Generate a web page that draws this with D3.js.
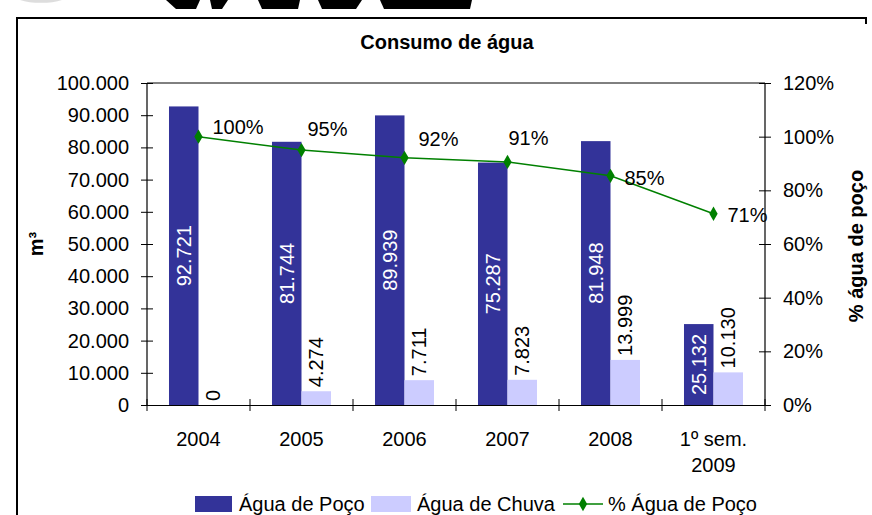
<!DOCTYPE html>
<html>
<head>
<meta charset="utf-8">
<script src="https://cdn.jsdelivr.net/npm/d3@7"></script>
<style>
  body { margin: 0; background: #fff; }
  svg text { font-family: Arial, "Liberation Sans", sans-serif; }
</style>
</head>
<body>
<div id="chart"></div>
<script>
var categories = ["2004", "2005", "2006", "2007", "2008", "1º sem.|2009"];
var aguaPoco = [92721, 81744, 89939, 75287, 81948, 25132];
var aguaChuva = [0, 4274, 7711, 7823, 13999, 10130];
var pctPoco = [1.00, 0.95, 0.921, 0.906, 0.854, 0.713];
var pctLabels = ["100%", "95%", "92%", "91%", "85%", "71%"];
var leftTicks = [0, 10000, 20000, 30000, 40000, 50000, 60000, 70000, 80000, 90000, 100000];
var rightTicks = [0, 0.2, 0.4, 0.6, 0.8, 1.0, 1.2];
// label nudges for the % labels (dx, dy from the point)
var pctNudge = [[14, -10], [6, -21], [14, -19], [1, -24], [14, 2], [14, 1]];

var W = 872, H = 515;
var plot = {left: 147, right: 765, top: 83, bottom: 405};
var fs = 20;

var br = d3.formatLocale({decimal: ",", thousands: ".", grouping: [3], currency: ["", ""]});
var fmtNum = br.format(",d");

var svg = d3.select("#chart").append("svg")
            .attr("width", W)
            .attr("height", H);

// cropped page: bits of a logo above the frame
svg.append("path")
   .attr("d", "M20,0 A30,10 0 0 0 62,0 Z")
   .style("fill", "#ddd");
var logoBits = [[166, 0, 200, 0, 196, 9, 176, 9], [210, 0, 228, 0, 222, 9, 212, 9],
                [258, 0, 300, 0, 298, 9, 262, 9], [318, 0, 362, 0, 356, 9, 322, 9],
                [380, 0, 472, 0, 470, 9, 384, 9]];
svg.selectAll("polygon.logo")
   .data(logoBits)
   .enter()
   .append("polygon")
   .attr("class", "logo")
   .attr("points", function(d){
       var p = [];
       for(var i = 0; i < d.length; i += 2) p.push(d[i] + "," + d[i+1]);
       return p.join(" ");
   })
   .style("fill", "#000");

// frame
svg.append("path")
   .attr("d", "M17,515 L17,18 L866,18 L866,24")
   .style("fill", "none")
   .style("stroke", "#000")
   .style("stroke-width", 2);

var x = d3.scaleBand()
          .domain(categories)
          .range([plot.left, plot.right])
          .paddingInner(0.427)
          .paddingOuter(0.2135);
var xs = d3.scaleBand()
           .domain(["poco", "chuva"])
           .range([0, x.bandwidth()]);
var y = d3.scaleLinear().domain([0, 100000]).range([plot.bottom, plot.top]);
var y2 = d3.scaleLinear().domain([0, 1.2]).range([plot.bottom, plot.top]);

// title
svg.append("text")
   .attr("x", 447)
   .attr("y", 49)
   .attr("text-anchor", "middle")
   .style("font-size", "20px")
   .style("font-weight", "bold")
   .text("Consumo de água");

// bars
var groups = svg.selectAll("g.cat")
                .data(categories)
                .enter()
                .append("g")
                .attr("class", "cat")
                .attr("transform", function(d){ return "translate(" + x(d) + ",0)"; });

groups.append("rect")
      .attr("x", xs("poco"))
      .attr("y", function(d, i){ return y(aguaPoco[i]); })
      .attr("width", xs.bandwidth())
      .attr("height", function(d, i){ return y(0) - y(aguaPoco[i]); })
      .style("fill", "#333399");

groups.append("rect")
      .attr("x", xs("chuva"))
      .attr("y", function(d, i){ return y(aguaChuva[i]); })
      .attr("width", xs.bandwidth())
      .attr("height", function(d, i){ return y(0) - y(aguaChuva[i]); })
      .style("fill", "#ccccff");

// value labels
groups.append("text")
      .attr("transform", function(d, i){
          var cx = xs("poco") + xs.bandwidth() / 2;
          var cy = (y(aguaPoco[i]) + y(0)) / 2;
          return "translate(" + cx + "," + cy + ") rotate(-90)";
      })
      .attr("text-anchor", "middle")
      .attr("dy", "0.36em")
      .style("font-size", fs + "px")
      .style("fill", "#fff")
      .text(function(d, i){ return fmtNum(aguaPoco[i]); });

groups.append("text")
      .attr("transform", function(d, i){
          var cx = xs("chuva") + xs.bandwidth() / 2;
          var cy = y(aguaChuva[i]) - 4;
          return "translate(" + cx + "," + cy + ") rotate(-90)";
      })
      .attr("text-anchor", "start")
      .attr("dy", "0.36em")
      .style("font-size", fs + "px")
      .style("fill", "#000")
      .text(function(d, i){ return fmtNum(aguaChuva[i]); });

// plot border top line
svg.append("line")
   .attr("x1", plot.left).attr("x2", plot.right)
   .attr("y1", plot.top).attr("y2", plot.top)
   .style("stroke", "#000")
   .style("stroke-width", 1);

// left axis
var leftAxis = svg.append("g")
                  .attr("transform", "translate(" + plot.left + ",0)")
                  .call(d3.axisLeft(y).tickValues(leftTicks).tickSize(6).tickPadding(12)
                          .tickFormat(function(d){ return fmtNum(d); }));
leftAxis.selectAll(".tick line").attr("x2", -6).attr("x1", 6);

// right axis
var rightAxis = svg.append("g")
                   .attr("transform", "translate(" + plot.right + ",0)")
                   .call(d3.axisRight(y2).tickValues(rightTicks).tickSize(6).tickPadding(12)
                           .tickFormat(d3.format(".0%")));
rightAxis.selectAll(".tick line").attr("x1", -6).attr("x2", 6);

// bottom axis
var bottomAxis = svg.append("g")
                    .attr("transform", "translate(0," + plot.bottom + ")")
                    .call(d3.axisBottom(x).tickSize(0).tickPadding(0).tickFormat(""));
var bounds = [];
for (var k = 0; k <= categories.length; k++) bounds.push(plot.left + k * x.step());
bottomAxis.selectAll("line.bound")
          .data(bounds)
          .enter()
          .append("line")
          .attr("class", "bound")
          .attr("x1", function(d){ return d; })
          .attr("x2", function(d){ return d; })
          .attr("y1", -6)
          .attr("y2", 6)
          .style("stroke", "#000");

var catLabels = bottomAxis.selectAll("text.cat")
                          .data(categories)
                          .enter()
                          .append("text")
                          .attr("class", "cat")
                          .attr("text-anchor", "middle")
                          .style("font-size", fs + "px")
                          .style("fill", "#000");
catLabels.each(function(d){
    var parts = d.split("|");
    var t = d3.select(this);
    parts.forEach(function(p, j){
        t.append("tspan")
         .attr("x", x(d) + x.bandwidth() / 2)
         .attr("y", 41 + j * 26)
         .text(p);
    });
});

[leftAxis, rightAxis, bottomAxis].forEach(function(a){
    a.select(".domain").style("stroke", "#000").style("stroke-width", 1.2);
    a.selectAll(".tick line").style("stroke", "#000");
    a.selectAll("text").style("font-size", fs + "px").style("fill", "#000")
     .style("font-family", "Arial, 'Liberation Sans', sans-serif");
});
leftAxis.select(".domain").attr("d", "M0," + plot.top + "V" + plot.bottom);
rightAxis.select(".domain").attr("d", "M0," + plot.top + "V" + plot.bottom);

// axis titles
svg.append("text")
   .attr("transform", "translate(36,244) rotate(-90)")
   .attr("text-anchor", "middle")
   .attr("dy", "0.36em")
   .style("font-size", fs + "px")
   .style("font-weight", "bold")
   .text("m³");

svg.append("text")
   .attr("transform", "translate(856,246) rotate(-90)")
   .attr("text-anchor", "middle")
   .attr("dy", "0.36em")
   .style("font-size", fs + "px")
   .style("font-weight", "bold")
   .text("% água de poço");

// line series
var cx = function(d, i){ return x(categories[i]) + x.bandwidth() / 2; };
var line = d3.line()
             .x(function(d, i){ return cx(d, i); })
             .y(function(d){ return y2(d); });

svg.append("path")
   .datum(pctPoco)
   .attr("d", line)
   .style("fill", "none")
   .style("stroke", "#008000")
   .style("stroke-width", 1.5);

var diamond = d3.symbol().type(d3.symbolDiamond).size(60);
svg.selectAll("path.marker")
   .data(pctPoco)
   .enter()
   .append("path")
   .attr("class", "marker")
   .attr("d", diamond)
   .attr("transform", function(d, i){ return "translate(" + cx(d, i) + "," + y2(d) + ")"; })
   .style("fill", "#008000");

svg.selectAll("text.pct")
   .data(pctPoco)
   .enter()
   .append("text")
   .attr("class", "pct")
   .attr("x", function(d, i){ return cx(d, i) + pctNudge[i][0]; })
   .attr("y", function(d, i){ return y2(d) + pctNudge[i][1]; })
   .attr("dy", "0.36em")
   .style("font-size", fs + "px")
   .text(function(d, i){ return pctLabels[i]; });

// legend
var legend = svg.append("g").attr("transform", "translate(0,504)");
legend.append("rect").attr("x", 195).attr("y", -8).attr("width", 37).attr("height", 16).style("fill", "#333399");
legend.append("text").attr("x", 239).attr("dy", "0.36em").style("font-size", fs + "px").text("Água de Poço");
legend.append("rect").attr("x", 371).attr("y", -8).attr("width", 40).attr("height", 16).style("fill", "#ccccff");
legend.append("text").attr("x", 417).attr("dy", "0.36em").style("font-size", fs + "px").text("Água de Chuva");
legend.append("line").attr("x1", 563).attr("x2", 603).attr("y1", 0).attr("y2", 0)
      .style("stroke", "#008000").style("stroke-width", 1.5);
legend.append("path").attr("d", diamond).attr("transform", "translate(583,0)").style("fill", "#008000");
legend.append("text").attr("x", 608).attr("dy", "0.36em").style("font-size", fs + "px").text("% Água de Poço");
</script>
</body>
</html>
